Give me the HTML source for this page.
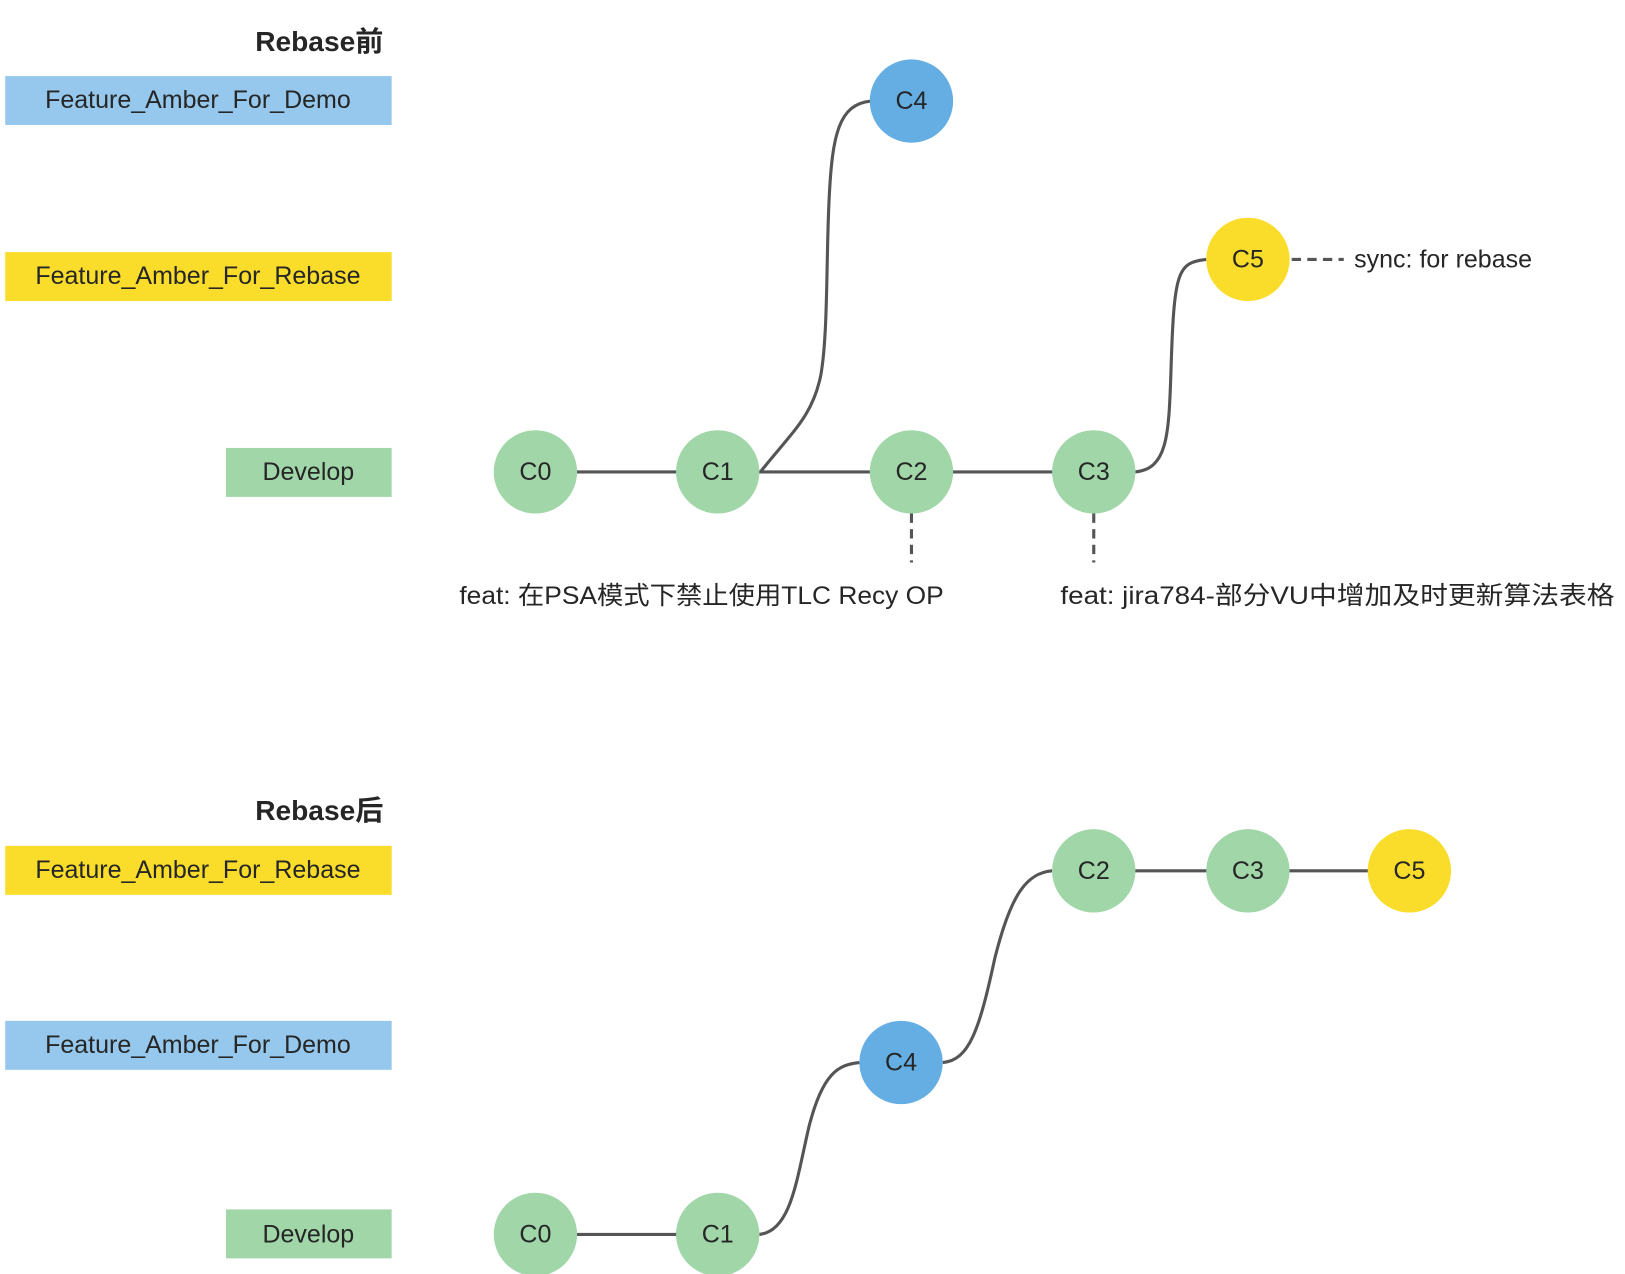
<!DOCTYPE html>
<html><head><meta charset="utf-8"><style>
html,body{margin:0;padding:0;background:#fff;}
svg{display:block;}
text{font-family:"Liberation Sans","Noto Sans CJK SC",sans-serif;fill:#262626;}
</style></head><body>
<svg width="1625" height="1274" viewBox="0 0 1560 1223" xmlns="http://www.w3.org/2000/svg">
<g font-size="24" text-anchor="middle" dominant-baseline="central">
<text x="368" y="40" text-anchor="end" font-weight="bold" font-size="27">Rebase前</text>
<rect x="5" y="73" width="371" height="47" fill="#95c8ec"/><text x="190" y="96">Feature_Amber_For_Demo</text>
<rect x="5" y="242" width="371" height="47" fill="#fadd2a"/><text x="190" y="265">Feature_Amber_For_Rebase</text>
<rect x="217" y="430" width="159" height="47" fill="#a0d6a8"/><text x="296" y="453">Develop</text>

<g stroke="#555" stroke-width="3" fill="none">
<line x1="514" y1="453" x2="1050" y2="453"/>
<path d="M730,453 C760,415 780,400 788,360 C795,320 793,250 796,190 C799,130 805,100 836,97"/>
<path d="M1090,453 C1120,450 1122,420 1124,360 C1127,260 1130,252 1158,249"/>
<path d="M1240,249 H1290" stroke-dasharray="9,6"/>
<path d="M875,493 V540" stroke-dasharray="9,6"/>
<path d="M1050,493 V540" stroke-dasharray="9,6"/>
</g>
<circle cx="514" cy="453" r="40" fill="#a0d6a8"/><text x="514" y="453">C0</text>
<circle cx="689" cy="453" r="40" fill="#a0d6a8"/><text x="689" y="453">C1</text>
<circle cx="875" cy="453" r="40" fill="#a0d6a8"/><text x="875" y="453">C2</text>
<circle cx="1050" cy="453" r="40" fill="#a0d6a8"/><text x="1050" y="453">C3</text>
<circle cx="875" cy="97" r="40" fill="#64aee4"/><text x="875" y="97">C4</text>
<circle cx="1198" cy="249" r="40" fill="#fadd2a"/><text x="1198" y="249">C5</text>
<text x="1300" y="249" text-anchor="start">sync: for rebase</text>
<text x="441" y="572" text-anchor="start" textLength="465" lengthAdjust="spacingAndGlyphs">feat: 在PSA模式下禁止使用TLC Recy OP</text>
<text x="1018" y="572" text-anchor="start" textLength="532" lengthAdjust="spacingAndGlyphs">feat: jira784-部分VU中增加及时更新算法表格</text>

<text x="368" y="778" text-anchor="end" font-weight="bold" font-size="27">Rebase后</text>
<rect x="5" y="812" width="371" height="47" fill="#fadd2a"/><text x="190" y="835">Feature_Amber_For_Rebase</text>
<rect x="5" y="980" width="371" height="47" fill="#95c8ec"/><text x="190" y="1003">Feature_Amber_For_Demo</text>
<rect x="217" y="1161" width="159" height="47" fill="#a0d6a8"/><text x="296" y="1185">Develop</text>
<g stroke="#555" stroke-width="3" fill="none">
<line x1="514" y1="1185" x2="689" y2="1185"/>
<path d="M729,1185 C760,1182 765,1130 777,1080 C790,1030 805,1022 825,1020"/>
<path d="M905,1020 C930,1018 940,990 955,920 C970,860 985,838 1010,836"/>
<line x1="1050" y1="836" x2="1353" y2="836"/>
</g>
<circle cx="514" cy="1185" r="40" fill="#a0d6a8"/><text x="514" y="1185">C0</text>
<circle cx="689" cy="1185" r="40" fill="#a0d6a8"/><text x="689" y="1185">C1</text>
<circle cx="865" cy="1020" r="40" fill="#64aee4"/><text x="865" y="1020">C4</text>
<circle cx="1050" cy="836" r="40" fill="#a0d6a8"/><text x="1050" y="836">C2</text>
<circle cx="1198" cy="836" r="40" fill="#a0d6a8"/><text x="1198" y="836">C3</text>
<circle cx="1353" cy="836" r="40" fill="#fadd2a"/><text x="1353" y="836">C5</text>
</g>
</svg>
</body></html>
